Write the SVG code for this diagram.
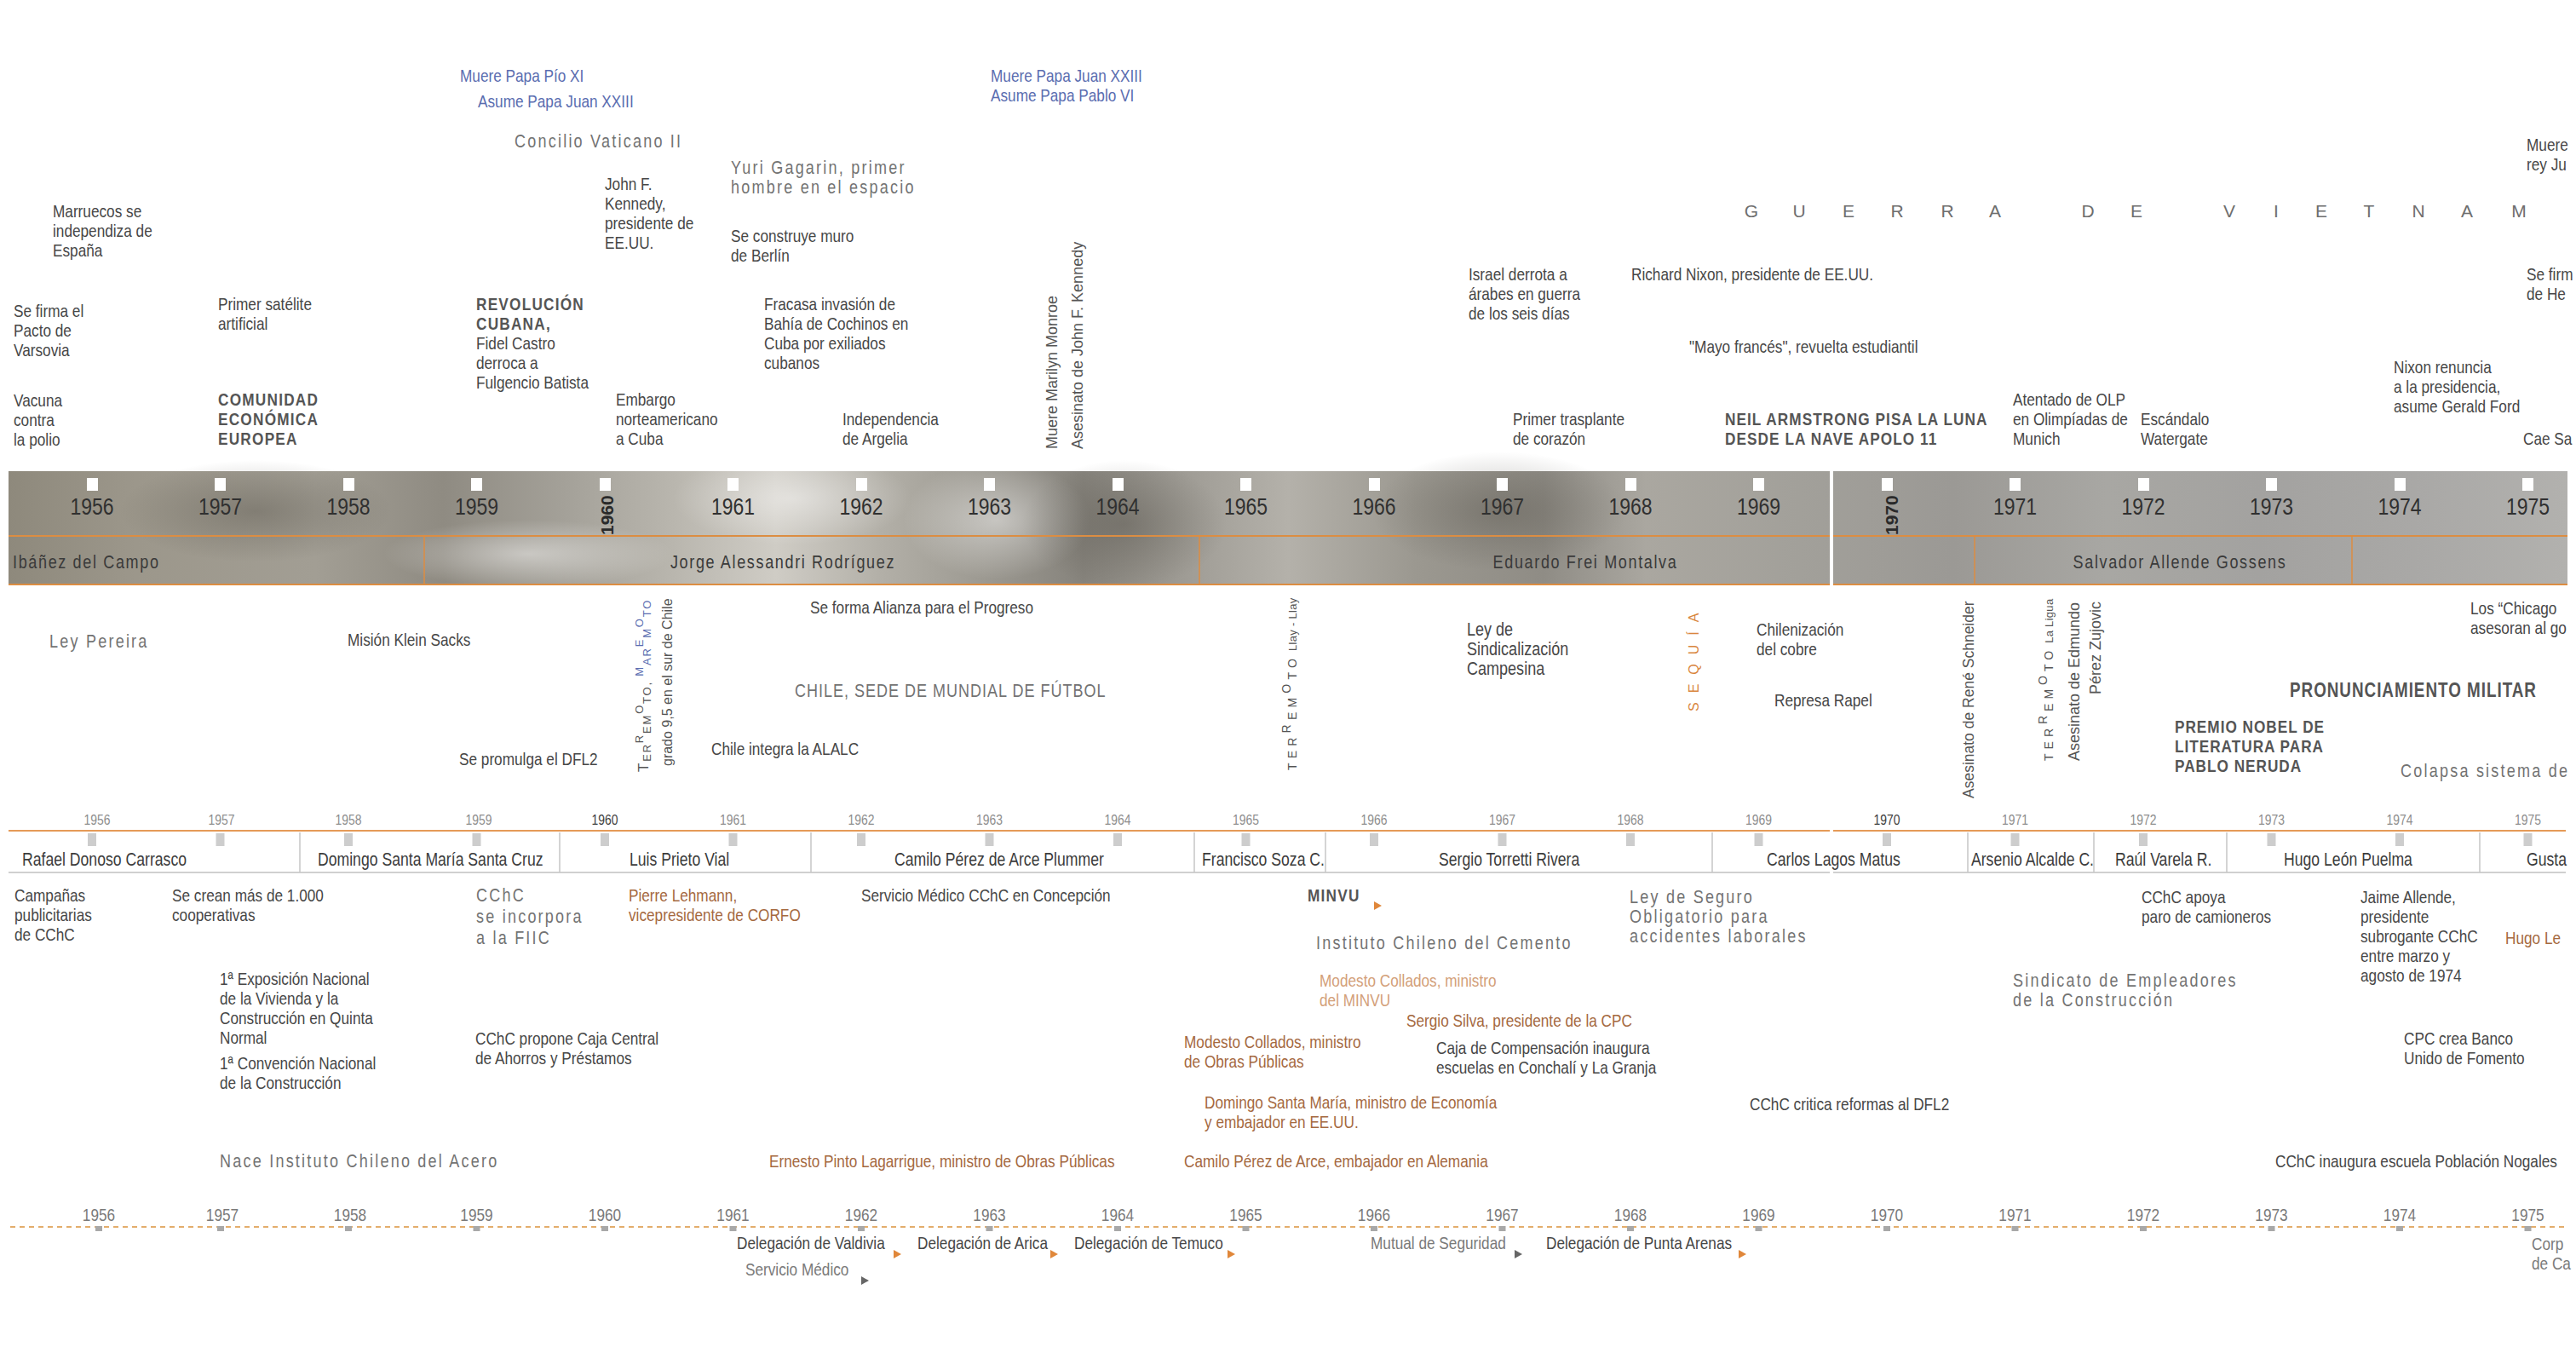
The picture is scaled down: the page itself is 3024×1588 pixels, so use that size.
<svg xmlns="http://www.w3.org/2000/svg" width="3024" height="1588" viewBox="0 0 3024 1588">
<defs>
<style>
.n{font-family:"Liberation Sans",Arial,sans-serif;font-size:21px;fill:#474747}
.ls{font-family:"Liberation Sans",Arial,sans-serif;font-size:22px;letter-spacing:2.7px;fill:#737373}
.bd{font-family:"Liberation Sans",Arial,sans-serif;font-size:21px;font-weight:bold;letter-spacing:1.5px;fill:#555555}
.blu{fill:#5a6db0}
.org{fill:#a5693f}
.orl{fill:#d3a079}
.vt{font-family:"Liberation Sans",Arial,sans-serif;fill:#555555}
.yb{font-family:"Liberation Sans",Arial,sans-serif;font-size:28px;fill:#303030;text-anchor:middle}
.yr{font-family:"Liberation Sans",Arial,sans-serif;font-size:21px;font-weight:bold;fill:#2a2a2a}
.pb{font-family:"Liberation Sans",Arial,sans-serif;font-size:22px;letter-spacing:2px;fill:#3a3a3a}
.ys{font-family:"Liberation Sans",Arial,sans-serif;font-size:17px;fill:#8e8e8e;text-anchor:middle}
.cn{font-family:"Liberation Sans",Arial,sans-serif;font-size:21.5px;fill:#3c3c3c}
.yd{font-family:"Liberation Sans",Arial,sans-serif;font-size:21px;fill:#7a7a7a;text-anchor:middle}
.ol{stroke:#dc8d42;stroke-width:2;fill:none}
.gl{stroke:#c6c6c6;stroke-width:1.5;fill:none}
.sq{fill:#ffffff}
.gs{fill:#cdcdcd}
.bs{fill:#a8a8a8}
.tri{fill:#e0873a}
.trd{fill:#666666}
</style>
<linearGradient id="bandG" x1="0" y1="0" x2="1" y2="0">
<stop offset="0" stop-color="#8e897c"/>
<stop offset="0.05" stop-color="#9c978b"/>
<stop offset="0.12" stop-color="#a29e94"/>
<stop offset="0.17" stop-color="#8f8b82"/>
<stop offset="0.22" stop-color="#a5a29a"/>
<stop offset="0.26" stop-color="#b9b6ae"/>
<stop offset="0.30" stop-color="#cfccc5"/>
<stop offset="0.34" stop-color="#b3b0a8"/>
<stop offset="0.38" stop-color="#9d9a92"/>
<stop offset="0.42" stop-color="#86837c"/>
<stop offset="0.46" stop-color="#9f9c95"/>
<stop offset="0.50" stop-color="#b4b1aa"/>
<stop offset="0.55" stop-color="#9b9890"/>
<stop offset="0.60" stop-color="#8f8c85"/>
<stop offset="0.64" stop-color="#aaa7a0"/>
<stop offset="0.70" stop-color="#a2a09a"/>
<stop offset="0.76" stop-color="#9b9995"/>
<stop offset="0.82" stop-color="#a8a7a3"/>
<stop offset="0.88" stop-color="#a3a2a0"/>
<stop offset="0.94" stop-color="#a9a8a6"/>
<stop offset="1" stop-color="#b2b1ae"/>
</linearGradient>
<radialGradient id="hl"><stop offset="0" stop-color="#ffffff" stop-opacity="0.45"/><stop offset="1" stop-color="#ffffff" stop-opacity="0"/></radialGradient>
<radialGradient id="dk"><stop offset="0" stop-color="#4a463e" stop-opacity="0.35"/><stop offset="1" stop-color="#4a463e" stop-opacity="0"/></radialGradient>
<path id="tr" d="M0,-5 L9,0 L0,5 Z"/>
</defs>
<rect width="3024" height="1588" fill="#ffffff"/>

<!-- timeline band -->
<g id="band">
<rect x="10" y="553" width="3004" height="134" fill="url(#bandG)"/>
<ellipse cx="930" cy="585" rx="140" ry="55" fill="url(#hl)"/>
<ellipse cx="1170" cy="610" rx="110" ry="70" fill="url(#hl)"/>
<ellipse cx="620" cy="650" rx="170" ry="40" fill="url(#hl)"/>
<ellipse cx="1320" cy="615" rx="120" ry="75" fill="url(#dk)"/>
<ellipse cx="300" cy="600" rx="160" ry="60" fill="url(#dk)"/>
<ellipse cx="1760" cy="600" rx="150" ry="70" fill="url(#dk)"/>
<line class="ol" x1="10" y1="629" x2="3014" y2="629"/>
<line class="ol" x1="10" y1="686" x2="3014" y2="686"/>
<line class="ol" x1="498" y1="629" x2="498" y2="686" style="stroke-width:1.5"/>
<line class="ol" x1="1408" y1="629" x2="1408" y2="686" style="stroke-width:1.5"/>
<line class="ol" x1="2318" y1="629" x2="2318" y2="686" style="stroke-width:1.5"/>
<line class="ol" x1="2761" y1="629" x2="2761" y2="686" style="stroke-width:1.5"/>
<g id="band-marks">
<rect class="sq" x="102" y="561" width="13" height="15"/>
<rect class="sq" x="252" y="561" width="13" height="15"/>
<rect class="sq" x="403" y="561" width="13" height="15"/>
<rect class="sq" x="553" y="561" width="13" height="15"/>
<rect class="sq" x="704" y="561" width="13" height="15"/>
<rect class="sq" x="854" y="561" width="13" height="15"/>
<rect class="sq" x="1005" y="561" width="13" height="15"/>
<rect class="sq" x="1155" y="561" width="13" height="15"/>
<rect class="sq" x="1306" y="561" width="13" height="15"/>
<rect class="sq" x="1456" y="561" width="13" height="15"/>
<rect class="sq" x="1607" y="561" width="13" height="15"/>
<rect class="sq" x="1757" y="561" width="13" height="15"/>
<rect class="sq" x="1908" y="561" width="13" height="15"/>
<rect class="sq" x="2058" y="561" width="13" height="15"/>
<rect class="sq" x="2209" y="561" width="13" height="15"/>
<rect class="sq" x="2359" y="561" width="13" height="15"/>
<rect class="sq" x="2510" y="561" width="13" height="15"/>
<rect class="sq" x="2660" y="561" width="13" height="15"/>
<rect class="sq" x="2811" y="561" width="13" height="15"/>
<rect class="sq" x="2961" y="561" width="13" height="15"/>
</g>
<g id="band-years" transform="scale(0.82,1)">
<text class="yb" x="131.71" y="604">1956</text>
<text class="yb" x="315.24" y="604">1957</text>
<text class="yb" x="498.78" y="604">1958</text>
<text class="yb" x="682.32" y="604">1959</text>
<text class="yb" x="1049.39" y="604">1961</text>
<text class="yb" x="1232.93" y="604">1962</text>
<text class="yb" x="1416.46" y="604">1963</text>
<text class="yb" x="1600" y="604">1964</text>
<text class="yb" x="1783.54" y="604">1965</text>
<text class="yb" x="1967.07" y="604">1966</text>
<text class="yb" x="2150.61" y="604">1967</text>
<text class="yb" x="2334.15" y="604">1968</text>
<text class="yb" x="2517.68" y="604">1969</text>
<text class="yb" x="2884.76" y="604">1971</text>
<text class="yb" x="3068.29" y="604">1972</text>
<text class="yb" x="3251.83" y="604">1973</text>
<text class="yb" x="3435.37" y="604">1974</text>
<text class="yb" x="3618.9" y="604">1975</text>
</g>
<g id="band-years-bold">
<text class="yr" transform="translate(720,628) rotate(-90)">1960</text>
<text class="yr" transform="translate(2228,628) rotate(-90)">1970</text>
</g>
<g id="band-presidents">
<text class="pb" x="15" y="667" transform="matrix(.82 0 0 1 2.7 0)">Ibáñez del Campo</text>
<text class="pb" x="919" y="667" text-anchor="middle" transform="matrix(.82 0 0 1 165.42 0)">Jorge Alessandri Rodríguez</text>
<text class="pb" x="1861" y="667" text-anchor="middle" transform="matrix(.82 0 0 1 334.98 0)">Eduardo Frei Montalva</text>
<text class="pb" x="2559" y="667" text-anchor="middle" transform="matrix(.82 0 0 1 460.62 0)">Salvador Allende Gossens</text>
</g>
</g>

<!-- axes / connectors -->
<g id="connectors">
<line class="ol" x1="10" y1="975" x2="3012" y2="975" style="stroke:#e59a58"/>
<line x1="10" y1="1024" x2="3012" y2="1024" stroke="#d0d0d0" stroke-width="2"/>
<line class="gl" x1="352" y1="977" x2="352" y2="1024"/>
<line class="gl" x1="657" y1="977" x2="657" y2="1024"/>
<line class="gl" x1="952" y1="977" x2="952" y2="1024"/>
<line class="gl" x1="1402" y1="977" x2="1402" y2="1024"/>
<line class="gl" x1="1556" y1="977" x2="1556" y2="1024"/>
<line class="gl" x1="2010" y1="977" x2="2010" y2="1024"/>
<line class="gl" x1="2310" y1="977" x2="2310" y2="1024"/>
<line class="gl" x1="2458" y1="977" x2="2458" y2="1024"/>
<line class="gl" x1="2614" y1="977" x2="2614" y2="1024"/>
<line class="gl" x1="2911" y1="977" x2="2911" y2="1024"/>
<g id="mid-marks">
<rect class="gs" x="103" y="978" width="10" height="15"/>
<rect class="gs" x="253.5" y="978" width="10" height="15"/>
<rect class="gs" x="404" y="978" width="10" height="15"/>
<rect class="gs" x="554.5" y="978" width="10" height="15"/>
<rect class="gs" x="705" y="978" width="10" height="15"/>
<rect class="gs" x="855.5" y="978" width="10" height="15"/>
<rect class="gs" x="1006" y="978" width="10" height="15"/>
<rect class="gs" x="1156.5" y="978" width="10" height="15"/>
<rect class="gs" x="1307" y="978" width="10" height="15"/>
<rect class="gs" x="1457.5" y="978" width="10" height="15"/>
<rect class="gs" x="1608" y="978" width="10" height="15"/>
<rect class="gs" x="1758.5" y="978" width="10" height="15"/>
<rect class="gs" x="1909" y="978" width="10" height="15"/>
<rect class="gs" x="2059.5" y="978" width="10" height="15"/>
<rect class="gs" x="2210" y="978" width="10" height="15"/>
<rect class="gs" x="2360.5" y="978" width="10" height="15"/>
<rect class="gs" x="2511" y="978" width="10" height="15"/>
<rect class="gs" x="2661.5" y="978" width="10" height="15"/>
<rect class="gs" x="2812" y="978" width="10" height="15"/>
<rect class="gs" x="2962.5" y="978" width="10" height="15"/>
</g>
<line x1="12" y1="1440" x2="3012" y2="1440" stroke="#e3ad6c" stroke-width="2" stroke-dasharray="6 5"/>
<g id="bottom-marks">
<rect class="bs" x="112" y="1439" width="8" height="6"/>
<rect class="bs" x="255" y="1439" width="8" height="6"/>
<rect class="bs" x="405" y="1439" width="8" height="6"/>
<rect class="bs" x="555.5" y="1439" width="8" height="6"/>
<rect class="bs" x="706" y="1439" width="8" height="6"/>
<rect class="bs" x="856.5" y="1439" width="8" height="6"/>
<rect class="bs" x="1007" y="1439" width="8" height="6"/>
<rect class="bs" x="1157.5" y="1439" width="8" height="6"/>
<rect class="bs" x="1308" y="1439" width="8" height="6"/>
<rect class="bs" x="1458.5" y="1439" width="8" height="6"/>
<rect class="bs" x="1609" y="1439" width="8" height="6"/>
<rect class="bs" x="1759.5" y="1439" width="8" height="6"/>
<rect class="bs" x="1910" y="1439" width="8" height="6"/>
<rect class="bs" x="2060.5" y="1439" width="8" height="6"/>
<rect class="bs" x="2211" y="1439" width="8" height="6"/>
<rect class="bs" x="2361.5" y="1439" width="8" height="6"/>
<rect class="bs" x="2512" y="1439" width="8" height="6"/>
<rect class="bs" x="2662.5" y="1439" width="8" height="6"/>
<rect class="bs" x="2813" y="1439" width="8" height="6"/>
<rect class="bs" x="2963.5" y="1439" width="8" height="6"/>
</g>
<rect x="2148" y="553" width="4" height="480" fill="#ffffff"/>
<use href="#tr" class="tri" x="1613" y="1063"/>
<use href="#tr" class="tri" x="1049" y="1472"/>
<use href="#tr" class="tri" x="1233" y="1472"/>
<use href="#tr" class="tri" x="1441" y="1472"/>
<use href="#tr" class="trd" x="1778" y="1472"/>
<use href="#tr" class="tri" x="2041" y="1472"/>
<use href="#tr" class="trd" x="1011" y="1503"/>
</g>

<!-- mid timeline years -->
<g id="mid-years" transform="scale(0.82,1)">
<text class="ys" x="139.02" y="968">1956</text>
<text class="ys" x="317.07" y="968">1957</text>
<text class="ys" x="498.78" y="968">1958</text>
<text class="ys" x="685.37" y="968">1959</text>
<text class="ys" x="865.85" y="968" style="fill:#3e3e3e">1960</text>
<text class="ys" x="1049.39" y="968">1961</text>
<text class="ys" x="1232.93" y="968">1962</text>
<text class="ys" x="1416.46" y="968">1963</text>
<text class="ys" x="1600" y="968">1964</text>
<text class="ys" x="1783.54" y="968">1965</text>
<text class="ys" x="1967.07" y="968">1966</text>
<text class="ys" x="2150.61" y="968">1967</text>
<text class="ys" x="2334.15" y="968">1968</text>
<text class="ys" x="2517.68" y="968">1969</text>
<text class="ys" x="2701.22" y="968" style="fill:#3e3e3e">1970</text>
<text class="ys" x="2884.76" y="968">1971</text>
<text class="ys" x="3068.29" y="968">1972</text>
<text class="ys" x="3251.83" y="968">1973</text>
<text class="ys" x="3435.37" y="968">1974</text>
<text class="ys" x="3618.9" y="968">1975</text>
</g>

<!-- CChC presidents -->
<g id="cchc-presidents">
<text class="cn" x="26" y="1016" transform="matrix(.82 0 0 1 4.68 0)">Rafael Donoso Carrasco</text>
<text class="cn" x="373" y="1016" transform="matrix(.82 0 0 1 67.14 0)">Domingo Santa María Santa Cruz</text>
<text class="cn" x="739" y="1016" transform="matrix(.82 0 0 1 133.02 0)">Luis Prieto Vial</text>
<text class="cn" x="1050" y="1016" transform="matrix(.82 0 0 1 189 0)">Camilo Pérez de Arce Plummer</text>
<text class="cn" x="1411" y="1016" transform="matrix(.82 0 0 1 253.98 0)">Francisco Soza C.</text>
<text class="cn" x="1689" y="1016" transform="matrix(.82 0 0 1 304.02 0)">Sergio Torretti Rivera</text>
<text class="cn" x="2074" y="1016" transform="matrix(.82 0 0 1 373.32 0)">Carlos Lagos Matus</text>
<text class="cn" x="2314" y="1016" transform="matrix(.82 0 0 1 416.52 0)">Arsenio Alcalde C.</text>
<text class="cn" x="2483" y="1016" transform="matrix(.82 0 0 1 446.94 0)">Raúl Varela R.</text>
<text class="cn" x="2681" y="1016" transform="matrix(.82 0 0 1 482.58 0)">Hugo León Puelma</text>
<text class="cn" x="2966" y="1016" transform="matrix(.82 0 0 1 533.88 0)">Gusta</text>
</g>

<!-- bottom timeline years -->
<g id="bottom-years" transform="scale(0.82,1)">
<text class="yd" x="141.46" y="1433">1956</text>
<text class="yd" x="318.29" y="1433">1957</text>
<text class="yd" x="501.22" y="1433">1958</text>
<text class="yd" x="682.32" y="1433">1959</text>
<text class="yd" x="865.85" y="1433">1960</text>
<text class="yd" x="1049.39" y="1433">1961</text>
<text class="yd" x="1232.93" y="1433">1962</text>
<text class="yd" x="1416.46" y="1433">1963</text>
<text class="yd" x="1600" y="1433">1964</text>
<text class="yd" x="1783.54" y="1433">1965</text>
<text class="yd" x="1967.07" y="1433">1966</text>
<text class="yd" x="2150.61" y="1433">1967</text>
<text class="yd" x="2334.15" y="1433">1968</text>
<text class="yd" x="2517.68" y="1433">1969</text>
<text class="yd" x="2701.22" y="1433">1970</text>
<text class="yd" x="2884.76" y="1433">1971</text>
<text class="yd" x="3068.29" y="1433">1972</text>
<text class="yd" x="3251.83" y="1433">1973</text>
<text class="yd" x="3435.37" y="1433">1974</text>
<text class="yd" x="3618.9" y="1433">1975</text>
</g>

<!-- world events -->
<g id="world">
<g id="w-papa-1958" transform="matrix(.82 0 0 1 97.2 0)"><text class="n blu" x="540" y="96">Muere Papa Pío XI</text><text class="n blu" x="565.6" y="126">Asume Papa Juan XXIII</text></g>
<g id="w-concilio" transform="matrix(.82 0 0 1 108.72 0)"><text class="ls" x="604" y="173">Concilio Vaticano II</text></g>
<g id="w-papa-1963" transform="matrix(.82 0 0 1 209.34 0)"><text class="n blu" x="1163" y="96"><tspan x="1163">Muere Papa Juan XXIII</tspan><tspan x="1163" dy="23">Asume Papa Pablo VI</tspan></text></g>
<g id="w-gagarin" transform="matrix(.82 0 0 1 154.44 0)"><text class="ls" x="858" y="204"><tspan x="858">Yuri Gagarin, primer</tspan><tspan x="858" dy="23">hombre en el espacio</tspan></text></g>
<g id="w-kennedy" transform="matrix(.82 0 0 1 127.8 0)"><text class="n" x="710" y="223"><tspan x="710">John F.</tspan><tspan x="710" dy="23">Kennedy,</tspan><tspan x="710" dy="23">presidente de</tspan><tspan x="710" dy="23">EE.UU.</tspan></text></g>
<g id="w-marruecos" transform="matrix(.82 0 0 1 11.16 0)"><text class="n" x="62" y="255"><tspan x="62">Marruecos se</tspan><tspan x="62" dy="23">independiza de</tspan><tspan x="62" dy="23">España</tspan></text></g>
<g id="w-muro" transform="matrix(.82 0 0 1 154.44 0)"><text class="n" x="858" y="284"><tspan x="858">Se construye muro</tspan><tspan x="858" dy="23">de Berlín</tspan></text></g>
<g id="w-vietnam"><text class="n" y="255" style="font-size:21px;fill:#6e6e6e" text-anchor="middle" x="2056 2112 2170 2227 2286 2342 2396 2451 2508 2562 2617 2672 2725 2781 2839 2896 2957">GUERRA DE VIETNAM</text></g>
<g id="w-muere-rey" transform="matrix(.82 0 0 1 533.88 0)"><text class="n" x="2966" y="177"><tspan x="2966">Muere</tspan><tspan x="2966" dy="23">rey Ju</tspan></text></g>
<g id="w-varsovia" transform="matrix(.82 0 0 1 2.88 0)"><text class="n" x="16" y="372"><tspan x="16">Se firma el</tspan><tspan x="16" dy="23">Pacto de</tspan><tspan x="16" dy="23">Varsovia</tspan></text></g>
<g id="w-satelite" transform="matrix(.82 0 0 1 46.08 0)"><text class="n" x="256" y="364"><tspan x="256">Primer satélite</tspan><tspan x="256" dy="23">artificial</tspan></text></g>
<g id="w-cuba" transform="matrix(.82 0 0 1 100.62 0)"><text class="n" x="559" y="364"><tspan class="bd" x="559">REVOLUCIÓN</tspan><tspan class="bd" x="559" dy="23">CUBANA,</tspan><tspan x="559" dy="23">Fidel Castro</tspan><tspan x="559" dy="23">derroca a</tspan><tspan x="559" dy="23">Fulgencio Batista</tspan></text></g>
<g id="w-cochinos" transform="matrix(.82 0 0 1 161.46 0)"><text class="n" x="897" y="364"><tspan x="897">Fracasa invasión de</tspan><tspan x="897" dy="23">Bahía de Cochinos en</tspan><tspan x="897" dy="23">Cuba por exiliados</tspan><tspan x="897" dy="23">cubanos</tspan></text></g>
<g id="w-monroe"><text class="vt" style="font-size:18px" transform="translate(1241,527) rotate(-90)">Muere Marilyn Monroe</text><text class="vt" style="font-size:18px" transform="translate(1271,527) rotate(-90)">Asesinato de John F. Kennedy</text></g>
<g id="w-israel" transform="matrix(.82 0 0 1 310.32 0)"><text class="n" x="1724" y="329"><tspan x="1724">Israel derrota a</tspan><tspan x="1724" dy="23">árabes en guerra</tspan><tspan x="1724" dy="23">de los seis días</tspan></text></g>
<g id="w-nixon" transform="matrix(.82 0 0 1 344.7 0)"><text class="n" x="1915" y="329">Richard Nixon, presidente de EE.UU.</text></g>
<g id="w-firma" transform="matrix(.82 0 0 1 533.88 0)"><text class="n" x="2966" y="329"><tspan x="2966">Se firm</tspan><tspan x="2966" dy="23">de He</tspan></text></g>
<g id="w-mayo" transform="matrix(.82 0 0 1 356.94 0)"><text class="n" x="1983" y="414">"Mayo francés", revuelta estudiantil</text></g>
<g id="w-ford" transform="matrix(.82 0 0 1 505.8 0)"><text class="n" x="2810" y="438"><tspan x="2810">Nixon renuncia</tspan><tspan x="2810" dy="23">a la presidencia,</tspan><tspan x="2810" dy="23">asume Gerald Ford</tspan></text></g>
<g id="w-polio" transform="matrix(.82 0 0 1 2.88 0)"><text class="n" x="16" y="477"><tspan x="16">Vacuna</tspan><tspan x="16" dy="23">contra</tspan><tspan x="16" dy="23">la polio</tspan></text></g>
<g id="w-cee" transform="matrix(.82 0 0 1 46.08 0)"><text class="bd" x="256" y="476"><tspan x="256">COMUNIDAD</tspan><tspan x="256" dy="23">ECONÓMICA</tspan><tspan x="256" dy="23">EUROPEA</tspan></text></g>
<g id="w-embargo" transform="matrix(.82 0 0 1 130.14 0)"><text class="n" x="723" y="476"><tspan x="723">Embargo</tspan><tspan x="723" dy="23">norteamericano</tspan><tspan x="723" dy="23">a Cuba</tspan></text></g>
<g id="w-argelia" transform="matrix(.82 0 0 1 178.02 0)"><text class="n" x="989" y="499"><tspan x="989">Independencia</tspan><tspan x="989" dy="23">de Argelia</tspan></text></g>
<g id="w-trasplante" transform="matrix(.82 0 0 1 319.68 0)"><text class="n" x="1776" y="499"><tspan x="1776">Primer trasplante</tspan><tspan x="1776" dy="23">de corazón</tspan></text></g>
<g id="w-luna" transform="matrix(.82 0 0 1 364.5 0)"><text class="bd" x="2025" y="499" style="letter-spacing:1.3px"><tspan x="2025">NEIL ARMSTRONG PISA LA LUNA</tspan><tspan x="2025" dy="23">DESDE LA NAVE APOLO 11</tspan></text></g>
<g id="w-munich" transform="matrix(.82 0 0 1 425.34 0)"><text class="n" x="2363" y="476"><tspan x="2363">Atentado de OLP</tspan><tspan x="2363" dy="23">en Olimpíadas de</tspan><tspan x="2363" dy="23">Munich</tspan></text></g>
<g id="w-watergate" transform="matrix(.82 0 0 1 452.34 0)"><text class="n" x="2513" y="499"><tspan x="2513">Escándalo</tspan><tspan x="2513" dy="23">Watergate</tspan></text></g>
<g id="w-saigon" transform="matrix(.82 0 0 1 533.16 0)"><text class="n" x="2962" y="522">Cae Sa</text></g>
</g>

<!-- Chile events -->
<g id="chile">
<g id="c-pereira" transform="matrix(.82 0 0 1 10.44 0)"><text class="ls" x="58" y="760">Ley Pereira</text></g>
<g id="c-klein" transform="matrix(.82 0 0 1 73.44 0)"><text class="n" x="408" y="758">Misión Klein Sacks</text></g>
<g id="c-dfl2" transform="matrix(.82 0 0 1 97.02 0)"><text class="n" x="539" y="898">Se promulga el DFL2</text></g>
<g id="c-terremoto-1960">
<text class="vt" style="font-size:13px;letter-spacing:1.8px" transform="translate(761,906) rotate(-90)"><tspan style="font-size:17px">T</tspan><tspan dy="3">ER</tspan><tspan dy="-9">R</tspan><tspan dy="9">EM</tspan><tspan dy="-9">O</tspan><tspan dy="9">TO, </tspan><tspan class="blu" dy="-9">M</tspan><tspan class="blu" dy="9">AR</tspan><tspan class="blu" dy="-9">E</tspan><tspan class="blu" dy="9">M</tspan><tspan class="blu" dy="-9">O</tspan><tspan class="blu" dy="9">TO</tspan></text>
<text class="vt" style="font-size:16px" transform="translate(789,899) rotate(-90)">grado 9,5 en el sur de Chile</text>
</g>
<g id="c-alianza" transform="matrix(.82 0 0 1 171.18 0)"><text class="n" x="951" y="720">Se forma Alianza para el Progreso</text></g>
<g id="c-mundial" transform="matrix(.82 0 0 1 167.94 0)"><text class="ls" x="933" y="818" style="letter-spacing:1.2px">CHILE, SEDE DE MUNDIAL DE FÚTBOL</text></g>
<g id="c-alalc" transform="matrix(.82 0 0 1 150.3 0)"><text class="n" x="835" y="886">Chile integra la ALALC</text></g>
<g id="c-llay"><text class="vt" style="font-size:14px;letter-spacing:5.2px" transform="translate(1522,904) rotate(-90)">TER<tspan dy="-7">R</tspan><tspan dy="7">EM</tspan><tspan dy="-7">O</tspan><tspan dy="7">TO</tspan><tspan style="font-size:13px;letter-spacing:0.3px"> Llay - Llay</tspan></text></g>
<g id="c-sindicalizacion" transform="matrix(.82 0 0 1 309.96 0)"><text class="n" x="1722" y="746" style="font-size:22px"><tspan x="1722">Ley de</tspan><tspan x="1722" dy="23">Sindicalización</tspan><tspan x="1722" dy="23">Campesina</tspan></text></g>
<g id="c-sequia"><text class="vt" style="font-size:16px;letter-spacing:11px;fill:#d9863e" transform="translate(1994,835) rotate(-90)">SEQUÍA</text></g>
<g id="c-cobre" transform="matrix(.82 0 0 1 371.16 0)"><text class="n" x="2062" y="746"><tspan x="2062">Chilenización</tspan><tspan x="2062" dy="23">del cobre</tspan></text></g>
<g id="c-rapel" transform="matrix(.82 0 0 1 374.94 0)"><text class="n" x="2083" y="829">Represa Rapel</text></g>
<g id="c-schneider"><text class="vt" style="font-size:17.5px" transform="translate(2317,937) rotate(-90)">Asesinato de René Schneider</text></g>
<g id="c-laligua">
<text class="vt" style="font-size:14px;letter-spacing:5px" transform="translate(2410,893) rotate(-90)">TER<tspan dy="-7">R</tspan><tspan dy="7">EM</tspan><tspan dy="-7">O</tspan><tspan dy="7">TO</tspan><tspan style="font-size:13px;letter-spacing:0.3px"> La Ligua</tspan></text>
<text class="vt" style="font-size:18px" transform="translate(2441,893) rotate(-90)">Asesinato de Edmundo</text>
<text class="vt" style="font-size:18px" text-anchor="end" transform="translate(2466,706) rotate(-90)">Pérez Zujovic</text>
</g>
<g id="c-nobel" transform="matrix(.82 0 0 1 459.54 0)"><text class="bd" x="2553" y="860" style="letter-spacing:1.2px"><tspan x="2553">PREMIO NOBEL DE</tspan><tspan x="2553" dy="23">LITERATURA PARA</tspan><tspan x="2553" dy="23">PABLO NERUDA</tspan></text></g>
<g id="c-pronunciamiento" transform="matrix(.82 0 0 1 483.84 0)"><text class="bd" x="2688" y="818" style="font-size:23px;letter-spacing:1.2px">PRONUNCIAMIENTO MILITAR</text></g>
<g id="c-chicago" transform="matrix(.82 0 0 1 522 0)"><text class="n" x="2900" y="721"><tspan x="2900">Los “Chicago</tspan><tspan x="2900" dy="23">asesoran al go</tspan></text></g>
<g id="c-colapsa" transform="matrix(.82 0 0 1 507.24 0)"><text class="ls" x="2818" y="912">Colapsa sistema de</text></g>
</g>

<!-- CChC events -->
<g id="cchc">
<g id="k-campanas" transform="matrix(.82 0 0 1 3.06 0)"><text class="n" x="17" y="1058"><tspan x="17">Campañas</tspan><tspan x="17" dy="23">publicitarias</tspan><tspan x="17" dy="23">de CChC</tspan></text></g>
<g id="k-cooperativas" transform="matrix(.82 0 0 1 36.36 0)"><text class="n" x="202" y="1058"><tspan x="202">Se crean más de 1.000</tspan><tspan x="202" dy="23">cooperativas</tspan></text></g>
<g id="k-fiic" transform="matrix(.82 0 0 1 100.62 0)"><text class="ls" x="559" y="1058"><tspan x="559">CChC</tspan><tspan x="559" dy="25">se incorpora</tspan><tspan x="559" dy="25">a la FIIC</tspan></text></g>
<g id="k-lehmann" transform="matrix(.82 0 0 1 132.84 0)"><text class="n org" x="738" y="1058"><tspan x="738">Pierre Lehmann,</tspan><tspan x="738" dy="23">vicepresidente de CORFO</tspan></text></g>
<g id="k-servicio-concepcion" transform="matrix(.82 0 0 1 181.98 0)"><text class="n" x="1011" y="1058">Servicio Médico CChC en Concepción</text></g>
<g id="k-minvu" transform="matrix(.82 0 0 1 276.3 0)"><text class="bd" x="1535" y="1058">MINVU</text></g>
<g id="k-seguro" transform="matrix(.82 0 0 1 344.34 0)"><text class="ls" x="1913" y="1060"><tspan x="1913">Ley de Seguro</tspan><tspan x="1913" dy="23">Obligatorio para</tspan><tspan x="1913" dy="23">accidentes laborales</tspan></text></g>
<g id="k-camioneros" transform="matrix(.82 0 0 1 452.52 0)"><text class="n" x="2514" y="1060"><tspan x="2514">CChC apoya</tspan><tspan x="2514" dy="23">paro de camioneros</tspan></text></g>
<g id="k-jaime" transform="matrix(.82 0 0 1 498.78 0)"><text class="n" x="2771" y="1060"><tspan x="2771">Jaime Allende,</tspan><tspan x="2771" dy="23">presidente</tspan><tspan x="2771" dy="23">subrogante CChC</tspan><tspan x="2771" dy="23">entre marzo y</tspan><tspan x="2771" dy="23">agosto de 1974</tspan></text></g>
<g id="k-hugo" transform="matrix(.82 0 0 1 529.38 0)"><text class="n org" x="2941" y="1108">Hugo Le</text></g>
<g id="k-cemento" transform="matrix(.82 0 0 1 278.1 0)"><text class="ls" x="1545" y="1114">Instituto Chileno del Cemento</text></g>
<g id="k-exposicion" transform="matrix(.82 0 0 1 46.44 0)"><text class="n" x="258" y="1156"><tspan x="258">1ª Exposición Nacional</tspan><tspan x="258" dy="23">de la Vivienda y la</tspan><tspan x="258" dy="23">Construcción en Quinta</tspan><tspan x="258" dy="23">Normal</tspan></text></g>
<g id="k-convencion" transform="matrix(.82 0 0 1 46.44 0)"><text class="n" x="258" y="1255"><tspan x="258">1ª Convención Nacional</tspan><tspan x="258" dy="23">de la Construcción</tspan></text></g>
<g id="k-caja-central" transform="matrix(.82 0 0 1 100.44 0)"><text class="n" x="558" y="1226"><tspan x="558">CChC propone Caja Central</tspan><tspan x="558" dy="23">de Ahorros y Préstamos</tspan></text></g>
<g id="k-collados-minvu" transform="matrix(.82 0 0 1 278.82 0)"><text class="n orl" x="1549" y="1158"><tspan x="1549">Modesto Collados, ministro</tspan><tspan x="1549" dy="23">del MINVU</tspan></text></g>
<g id="k-silva" transform="matrix(.82 0 0 1 297.18 0)"><text class="n org" x="1651" y="1205">Sergio Silva, presidente de la CPC</text></g>
<g id="k-collados-mop" transform="matrix(.82 0 0 1 250.2 0)"><text class="n org" x="1390" y="1230"><tspan x="1390">Modesto Collados, ministro</tspan><tspan x="1390" dy="23">de Obras Públicas</tspan></text></g>
<g id="k-compensacion" transform="matrix(.82 0 0 1 303.48 0)"><text class="n" x="1686" y="1237"><tspan x="1686">Caja de Compensación inaugura</tspan><tspan x="1686" dy="23">escuelas en Conchalí y La Granja</tspan></text></g>
<g id="k-santamaria" transform="matrix(.82 0 0 1 254.52 0)"><text class="n org" x="1414" y="1301"><tspan x="1414">Domingo Santa María, ministro de Economía</tspan><tspan x="1414" dy="23">y embajador en EE.UU.</tspan></text></g>
<g id="k-critica" transform="matrix(.82 0 0 1 369.72 0)"><text class="n" x="2054" y="1303">CChC critica reformas al DFL2</text></g>
<g id="k-sindicato" transform="matrix(.82 0 0 1 425.34 0)"><text class="ls" x="2363" y="1158"><tspan x="2363">Sindicato de Empleadores</tspan><tspan x="2363" dy="23">de la Construcción</tspan></text></g>
<g id="k-banco" transform="matrix(.82 0 0 1 507.96 0)"><text class="n" x="2822" y="1226"><tspan x="2822">CPC crea Banco</tspan><tspan x="2822" dy="23">Unido de Fomento</tspan></text></g>
<g id="k-acero" transform="matrix(.82 0 0 1 46.44 0)"><text class="ls" x="258" y="1370">Nace Instituto Chileno del Acero</text></g>
<g id="k-pinto" transform="matrix(.82 0 0 1 162.54 0)"><text class="n org" x="903" y="1370">Ernesto Pinto Lagarrigue, ministro de Obras Públicas</text></g>
<g id="k-perez-arce" transform="matrix(.82 0 0 1 250.2 0)"><text class="n org" x="1390" y="1370">Camilo Pérez de Arce, embajador en Alemania</text></g>
<g id="k-nogales" transform="matrix(.82 0 0 1 480.78 0)"><text class="n" x="2671" y="1370">CChC inaugura escuela Población Nogales</text></g>
</g>

<!-- delegations -->
<g id="delegaciones">
<g id="d-valdivia" transform="matrix(.82 0 0 1 155.7 0)"><text class="n" x="865" y="1466">Delegación de Valdivia</text></g>
<g id="d-arica" transform="matrix(.82 0 0 1 193.86 0)"><text class="n" x="1077" y="1466">Delegación de Arica</text></g>
<g id="d-temuco" transform="matrix(.82 0 0 1 226.98 0)"><text class="n" x="1261" y="1466">Delegación de Temuco</text></g>
<g id="d-mutual" transform="matrix(.82 0 0 1 289.62 0)"><text class="n" x="1609" y="1466" style="fill:#7a7a7a">Mutual de Seguridad</text></g>
<g id="d-punta-arenas" transform="matrix(.82 0 0 1 326.7 0)"><text class="n" x="1815" y="1466">Delegación de Punta Arenas</text></g>
<g id="d-servicio" transform="matrix(.82 0 0 1 157.5 0)"><text class="n" x="875" y="1497" style="fill:#7a7a7a">Servicio Médico</text></g>
<g id="d-corp" transform="matrix(.82 0 0 1 534.96 0)"><text class="n" x="2972" y="1467" style="fill:#7a7a7a"><tspan x="2972">Corp</tspan><tspan x="2972" dy="23">de Ca</tspan></text></g>
</g>
</svg>
